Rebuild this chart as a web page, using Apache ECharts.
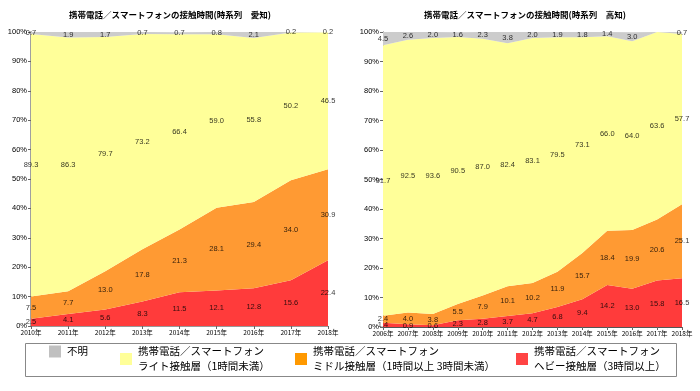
<!DOCTYPE html>
<html><head><meta charset="utf-8">
<script src="https://cdn.jsdelivr.net/npm/echarts@6/dist/echarts.min.js"></script>
<style>html,body{margin:0;padding:0;background:#fff}#c{width:700px;height:391px}</style>
</head><body><div id="c"></div>
<script>
const titleA = '携帯電話／スマートフォンの接触時間(時系列　愛知)';
const titleK = '携帯電話／スマートフォンの接触時間(時系列　高知)';
const yearsA = ['2010年','2011年','2012年','2013年','2014年','2015年','2016年','2017年','2018年'];
const heavyA = [2.5,4.1,5.6,8.3,11.5,12.1,12.8,15.6,22.4];
const middleA = [7.5,7.7,13.0,17.8,21.3,28.1,29.4,34.0,30.9];
const lightA = [89.3,86.3,79.7,73.2,66.4,59.0,55.8,50.2,46.5];
const unknownA = [0.7,1.9,1.7,0.7,0.7,0.8,2.1,0.2,0.2];

const yearsK = ['2006年','2007年','2008年','2009年','2010年','2011年','2012年','2013年','2014年','2015年','2016年','2017年','2018年'];
const heavyK = [1.4,0.9,0.6,2.3,2.8,3.7,4.7,6.8,9.4,14.2,13.0,15.8,16.5];
const middleK = [2.4,4.0,3.8,5.5,7.9,10.1,10.2,11.9,15.7,18.4,19.9,20.6,25.1];
const lightK = [91.7,92.5,93.6,90.5,87.0,82.4,83.1,79.5,73.1,66.0,64.0,63.6,57.7];
const unknownK = [4.5,2.6,2.0,1.6,2.3,3.8,2.0,1.9,1.8,1.4,3.0,0.0,0.7];

const names = ['携帯電話／スマートフォン\nヘビー接触層（3時間以上）',
               '携帯電話／スマートフォン\nミドル接触層（1時間以上 3時間未満）',
               '携帯電話／スマートフォン\nライト接触層（1時間未満）',
               '不明'];
const areaColors = ['#FF3B3B','#FF9A33','#FFFF99','#CCCCCC'];
const legendColors = ['#FF4444','#FF9900','#FFFF99','#C0C0C0'];

const font = '"Liberation Sans","Noto Sans CJK JP",sans-serif';
const cjk = '"Noto Sans CJK JP",sans-serif';

function buildSeries(idx, bands, stack) {
  const out = [];
  bands.forEach((b, k) => {
    out.push({
      name: names[k], type: 'line', stack: stack, xAxisIndex: idx, yAxisIndex: idx,
      data: b, symbol: 'none', smooth: false,
      lineStyle: {width: 0}, itemStyle: {color: areaColors[k]},
      areaStyle: {color: areaColors[k], opacity: 1}, z: 2
    });
  });
  const labels = [];
  const n = bands[0].length;
  for (let i = 0; i < n; i++) {
    let base = 0;
    bands.forEach(b => {
      const v = b[i];
      if (v > 0) labels.push([i, base + v / 2, v]);
      base += v;
    });
  }
  out.push({
    type: 'scatter', xAxisIndex: idx, yAxisIndex: idx, data: labels, symbolSize: 0, z: 5,
    silent: true,
    label: {show: true, position: 'inside', color: '#000', fontSize: 7.5, fontFamily: font,
      formatter: p => p.data[2].toFixed(1)}
  });
  return out;
}

function xAxis(idx, data, lineColor) {
  return {type: 'category', gridIndex: idx, data: data, boundaryGap: false,
    axisLine: {lineStyle: {color: lineColor, width: 1}},
    axisTick: {show: true, length: 3, lineStyle: {color: '#666'}},
    axisLabel: {fontSize: 6.5, color: '#000', margin: 3, fontFamily: cjk, interval: 0}};
}
function yAxis(idx, lineColor, w) {
  return {type: 'value', gridIndex: idx, min: 0, max: 100, interval: 10,
    axisLine: {show: true, lineStyle: {color: lineColor, width: w}},
    axisTick: {show: true, length: 3, lineStyle: {color: '#666'}},
    splitLine: {show: false},
    axisLabel: {formatter: '{value}%', fontSize: 7.5, color: '#000', margin: 4, fontFamily: font}};
}

const legends = [
  {name: '不明', left: 49, ci: 3},
  {name: names[2], left: 120, ci: 2},
  {name: names[1], left: 295, ci: 1},
  {name: names[0], left: 516, ci: 0}
].map(o => ({
  data: [{name: o.name, itemStyle: {color: legendColors[o.ci]}}],
  left: o.left, top: 344, padding: 0, icon: 'rect', itemWidth: 12, itemHeight: 12, itemGap: 0,
  textStyle: {fontSize: 10.5, lineHeight: 15, color: '#000', fontFamily: cjk, padding: [0,0,0,1]},
  selectedMode: false
}));

const option = {
  animation: false,
  backgroundColor: '#fff',
  title: [
    {text: titleA, left: 165, top: 6, textAlign: 'center',
      textStyle: {fontSize: 8.5, fontWeight: 'bold', fontFamily: cjk, color: '#000'}},
    {text: titleK, left: 520, top: 6, textAlign: 'center',
      textStyle: {fontSize: 8.5, fontWeight: 'bold', fontFamily: cjk, color: '#000'}}
  ],
  grid: [
    {left: 31, right: 372, top: 32, bottom: 65},
    {left: 383, right: 18, top: 32, bottom: 64}
  ],
  xAxis: [xAxis(0, yearsA, '#999'), xAxis(1, yearsK, '#555')],
  yAxis: [yAxis(0, '#A0A0A0', 2), yAxis(1, '#555', 1)],
  legend: legends,
  graphic: [{type: 'rect', shape: {x: 25.5, y: 343.5, width: 651, height: 33},
    style: {fill: 'none', stroke: '#888', lineWidth: 1}, z: -1}],
  series: [].concat(
    buildSeries(0, [heavyA, middleA, lightA, unknownA], 'a'),
    buildSeries(1, [heavyK, middleK, lightK, unknownK], 'k')
  )
};
const chart = echarts.init(document.getElementById('c'), null, {renderer: 'canvas'});
chart.setOption(option);
</script>
</body></html>
